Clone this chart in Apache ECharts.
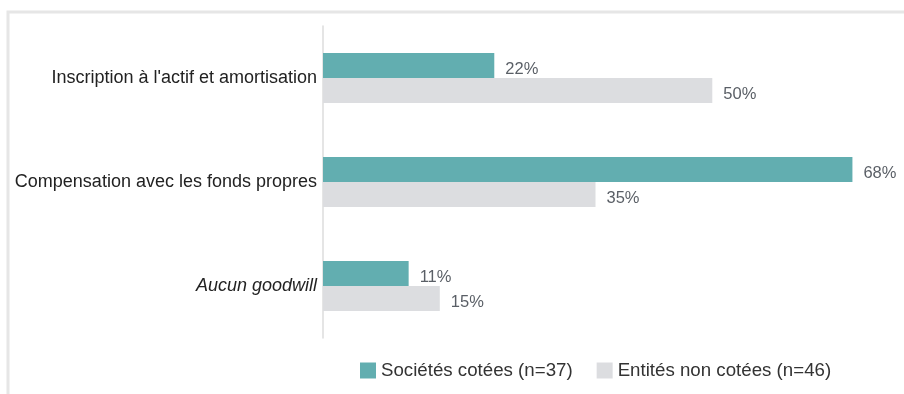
<!DOCTYPE html>
<html>
<head>
<meta charset="utf-8">
<script src="https://cdn.jsdelivr.net/npm/echarts@6/dist/echarts.min.js"></script>
<style>
html,body{margin:0;padding:0;background:#fff;}
#c{width:904px;height:394px;}
</style>
</head>
<body>
<div id="c"></div>
<script>
var categories = ["Inscription à l'actif et amortisation", "Compensation avec les fonds propres", "Aucun goodwill"];
var seriesNames = ["Sociétés cotées (n=37)", "Entités non cotées (n=46)"];
var listedValues = [22, 68, 11];
var unlistedValues = [50, 35, 15];

var chart = echarts.init(document.getElementById('c'), null, {renderer: 'canvas'});
var font = "'Liberation Sans', Arial, sans-serif";
var labelStyle = {show: true, position: 'right', distance: 11, offset: [0, 4], color: '#5a5f66', fontSize: 16.5, fontFamily: font, formatter: '{c}%'};

chart.setOption({
  animation: false,
  backgroundColor: '#fff',
  graphic: [{
    type: 'rect',
    shape: {x: 8, y: 12, width: 1000, height: 500},
    style: {fill: 'none', stroke: '#e6e6e6', lineWidth: 3},
    silent: true
  }],
  grid: {left: 323, right: 36, top: 26, bottom: 56, containLabel: false},
  legend: {
    top: 356, left: 355,
    itemWidth: 16, itemHeight: 16, itemGap: 24,
    icon: 'rect',
    textStyle: {fontSize: 18.7, color: '#333', fontFamily: font},
    data: seriesNames
  },
  xAxis: {
    type: 'value', min: 0, max: 70,
    show: false
  },
  yAxis: {
    type: 'category',
    inverse: true,
    data: categories,
    axisLine: {show: true, lineStyle: {color: '#dcdcdc', width: 1.5}},
    axisTick: {show: false},
    axisLabel: {
      margin: 6, fontSize: 18, color: '#222', fontFamily: font,
      formatter: function (v, i) { return i === 2 ? '{it|' + v + '}' : v; },
      rich: {it: {fontStyle: 'italic', fontSize: 18, color: '#222', fontFamily: font}}
    }
  },
  series: [
    {name: seriesNames[0], type: 'bar', data: listedValues, barWidth: 25, barGap: '0%',
     itemStyle: {color: '#62aeb0'}, label: labelStyle},
    {name: seriesNames[1], type: 'bar', data: unlistedValues, barWidth: 25, barGap: '0%',
     itemStyle: {color: '#dcdde0'}, label: labelStyle}
  ]
});
</script>
</body>
</html>
